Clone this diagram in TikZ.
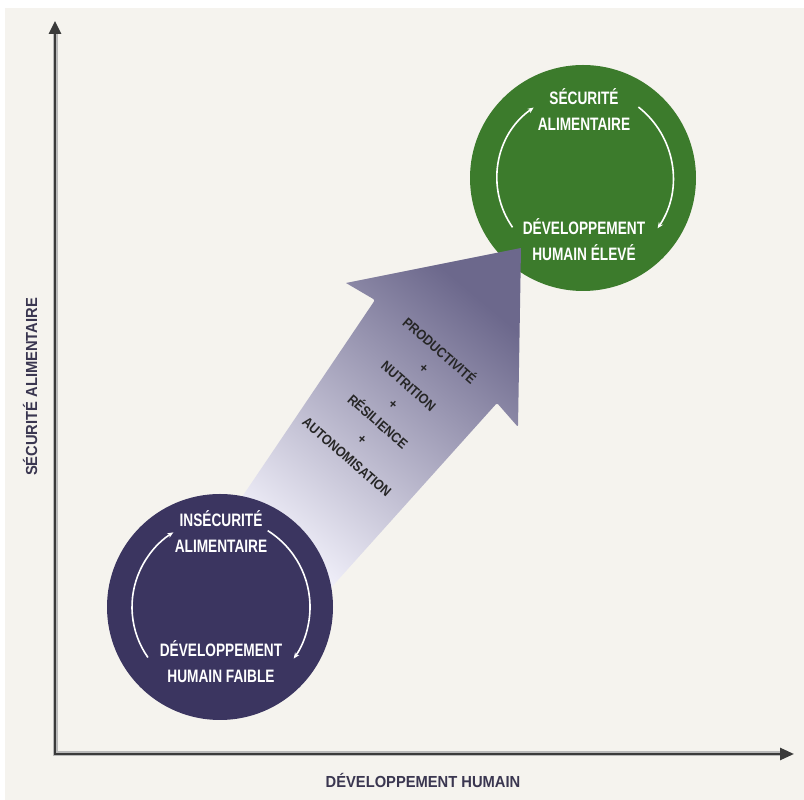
\documentclass[tikz,border=0pt]{standalone}
\usepackage{fontspec}
\setmainfont{Liberation Sans}
\newfontfamily\circf[FakeStretch=0.76]{Liberation Sans}
\newfontfamily\armf[FakeStretch=0.88]{Liberation Sans}
\newfontfamily\axf[FakeStretch=0.92]{Liberation Sans}
\usetikzlibrary{arrows.meta}
\definecolor{bgc}{HTML}{F5F3EE}
\definecolor{navy}{HTML}{3B3560}
\definecolor{grn}{HTML}{3C7B2C}
\definecolor{arrd}{HTML}{6C688C}
\definecolor{arrm}{HTML}{ADAACB}
\definecolor{arrl}{HTML}{F1F0FA}
\definecolor{axc}{HTML}{3A3A3A}
\definecolor{txtd}{HTML}{3A3650}
\begin{document}
\begin{tikzpicture}[x=1pt,y=1pt,
  bubble/.style={circle,minimum size=226pt,inner sep=0pt},
  circtext/.style={text=white,align=center,font=\circf\bfseries\fontsize{18}{26}\selectfont},
  cyc/.style={draw=white,line width=1.6pt,-{Stealth[length=6pt,width=5pt]}},
  axisline/.style={draw=axc,line width=2.6pt},
  axislabel/.style={text=txtd,font=\axf\bfseries\fontsize{16}{18}\selectfont}]
\useasboundingbox (0,0) rectangle (804,800);
\fill[white] (0,0) rectangle (804,800);
\fill[bgc] (5,0) rectangle (804,792);
% axes
\coordinate (origin) at (55,46);
\coordinate (ytip) at (55,779);
\coordinate (xtip) at (794,46);
\draw[draw=gray!55,line width=5pt] (55,768) -- (origin.center) -- (780,46);
\draw[axisline,{Triangle[length=13pt,width=12pt]}-{Triangle[length=14pt,width=12pt]}] (ytip) -- (origin) -- (xtip);
\node[axislabel,rotate=90] (ylab) at (30,413) {SÉCURITÉ ALIMENTAIRE};
\node[axislabel] (xlab) at (423,20) {DÉVELOPPEMENT HUMAIN};
% circles
\node[bubble,fill=grn] (hi) at (583,622) {};
% big arrow
\shade[top color=arrd,middle color=arrm,bottom color=arrl,shading angle=-40]
  (375,500) -- (346,517) -- (521,552) [rounded corners=2pt] -- (518,373) -- (497,397)
  -- (320,200) -- (240,300) -- cycle;
\node[bubble,fill=navy] (lo) at (220,193) {};
% cycle arcs
\draw[cyc] ([shift={(215:88pt)}]lo.center) arc[start angle=215,end angle=122,radius=88pt];
\draw[cyc] ([shift={(58:90pt)}]lo.center) arc[start angle=58,end angle=-35,radius=90pt];
\draw[cyc] ([shift={(215:86pt)}]hi.center) arc[start angle=215,end angle=125,radius=86pt];
\draw[cyc] ([shift={(52:90pt)}]hi.center) arc[start angle=52,end angle=-34,radius=90pt];
% circle texts
\node[circtext] (lotop) at (221,268) {INSÉCURITÉ\\ALIMENTAIRE};
\node[circtext] (lobot) at (221,138) {DÉVELOPPEMENT\\HUMAIN FAIBLE};
\node[circtext] (hitop) at (584,690) {SÉCURITÉ\\ALIMENTAIRE};
\node[circtext] (hibot) at (584,560) {DÉVELOPPEMENT\\HUMAIN ÉLEVÉ};
% levers on the arrow
\node[rotate=-41,align=center,text=black!85,font=\armf\bfseries\fontsize{14}{23.5}\selectfont] (levers) at (394,397)
  {PRODUCTIVITÉ\\+\\NUTRITION\\+\\RÉSILIENCE\\+\\AUTONOMISATION};
\end{tikzpicture}
\end{document}
